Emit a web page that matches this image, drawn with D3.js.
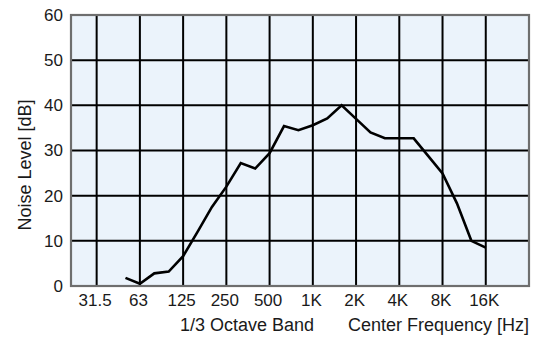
<!DOCTYPE html>
<html>
<head>
<meta charset="utf-8">
<script src="https://cdn.jsdelivr.net/npm/d3@7"></script>
<style>
  html, body { margin: 0; padding: 0; background: #ffffff; }
  svg { display: block; }
  text { font-family: "Liberation Sans", Arial, Helvetica, sans-serif; fill: #1a1a1a; }
</style>
</head>
<body>
<svg id="chart" width="538" height="337"></svg>
<script>
// 1/3-octave band centre frequencies (index 0 = 31.5 Hz)
const bands = ["31.5", "40", "50", "63", "80", "100", "125", "160", "200", "250", "315", "400",
  "500", "630", "800", "1K", "1.25K", "1.6K", "2K", "2.5K", "3.15K", "4K", "5K", "6.3K",
  "8K", "10K", "12.5K", "16K"];

// Measured bands and their noise levels [dB]
const measuredBands = ["50", "63", "80", "100", "125", "160", "200", "250", "315", "400",
  "500", "630", "800", "1K", "1.25K", "1.6K", "2K", "2.5K", "3.15K", "4K", "5K", "6.3K",
  "8K", "10K", "12.5K", "16K"];
const noiseLevels = [1.8, 0.5, 2.8, 3.2, 6.6, 12, 17.5, 22, 27.2, 26,
  29.4, 35.4, 34.5, 35.6, 37.1, 40, 37, 34, 32.7, 32.7, 32.7, 28.8,
  24.9, 18.3, 10, 8.5];

// Octave labels on the frequency axis
const xTickLabels = ["31.5", "63", "125", "250", "500", "1K", "2K", "4K", "8K", "16K"];
const yTicks = [0, 10, 20, 30, 40, 50, 60];

const svg = d3.select("#chart");
const plotLeft = 71, plotRight = 529, plotTop = 15, plotBottom = 286;

// Band index -> pixel (one step = one third of an octave)
const x = d3.scaleLinear().domain([-1.78, 30]).range([plotLeft, plotRight]);
const y = d3.scaleLinear().domain([0, 60]).range([plotBottom, plotTop]);
const bandX = b => x(bands.indexOf(b));

// Plot background
svg.append("rect")
  .attr("x", plotLeft).attr("y", plotTop)
  .attr("width", plotRight - plotLeft).attr("height", plotBottom - plotTop)
  .attr("fill", "#ebf3fb");

// Grid lines
const grid = svg.append("g").attr("stroke", "#000").attr("stroke-width", 2);
grid.selectAll("line.h").data(yTicks.filter(t => t > 0 && t < 60)).join("line")
  .attr("class", "h")
  .attr("x1", plotLeft).attr("x2", plotRight)
  .attr("y1", d => y(d)).attr("y2", d => y(d));
grid.selectAll("line.v").data(xTickLabels).join("line")
  .attr("class", "v")
  .attr("x1", d => bandX(d)).attr("x2", d => bandX(d))
  .attr("y1", plotTop).attr("y2", plotBottom);

// Frame
svg.append("rect")
  .attr("x", plotLeft).attr("y", plotTop)
  .attr("width", plotRight - plotLeft).attr("height", plotBottom - plotTop)
  .attr("fill", "none").attr("stroke", "#6e6e6e").attr("stroke-width", 2.2);

// Y axis (labels only)
const yAxis = d3.axisLeft(y).tickValues(yTicks).tickSize(0).tickPadding(8);
const gy = svg.append("g").attr("transform", `translate(${plotLeft},0)`).call(yAxis);
gy.select(".domain").remove();
gy.selectAll("text").attr("font-size", 17).style("font-family", "'Liberation Sans', Arial, sans-serif").attr("fill", "#1a1a1a");

// X axis (labels only)
const xAxis = d3.axisBottom(x)
  .tickValues(xTickLabels.map(l => bands.indexOf(l)))
  .tickFormat(i => bands[i])
  .tickSize(0).tickPadding(8);
const gx = svg.append("g").attr("transform", `translate(0,${plotBottom})`).call(xAxis);
gx.select(".domain").remove();
gx.selectAll("text").attr("font-size", 17).attr("dx", -2).style("font-family", "'Liberation Sans', Arial, sans-serif").attr("fill", "#1a1a1a");

// Noise spectrum
const line = d3.line()
  .x((d, i) => bandX(measuredBands[i]))
  .y(d => y(d));
svg.append("path")
  .attr("d", line(noiseLevels))
  .attr("fill", "none")
  .attr("stroke", "#000")
  .attr("stroke-width", 2.6)
  .attr("stroke-linejoin", "miter");

// Axis titles
svg.append("text")
  .attr("x", 180).attr("y", 331)
  .attr("font-size", 18)
  .text("1/3 Octave Band");
svg.append("text")
  .attr("x", 529).attr("y", 331)
  .attr("text-anchor", "end")
  .attr("font-size", 18)
  .text("Center Frequency [Hz]");
svg.append("text")
  .attr("transform", "translate(31,165) rotate(-90)")
  .attr("text-anchor", "middle")
  .attr("font-size", 18)
  .text("Noise Level [dB]");
</script>
</body>
</html>
